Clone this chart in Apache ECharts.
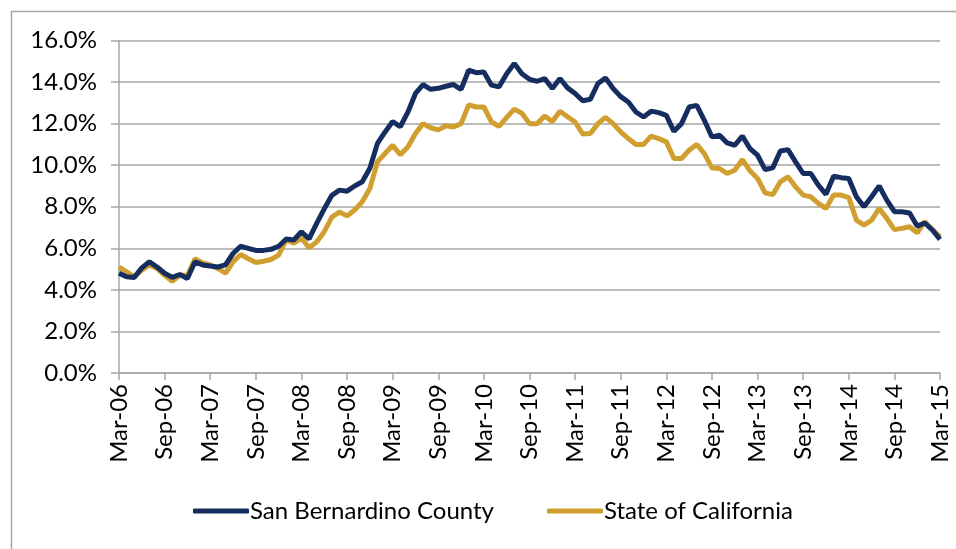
<!DOCTYPE html>
<html>
<head>
<meta charset="utf-8">
<script src="https://cdn.jsdelivr.net/npm/echarts@6/dist/echarts.min.js"></script>
<style>
html,body{margin:0;padding:0;background:#fff;}
#chart{width:956px;height:549px;}
</style>
</head>
<body>
<div id="chart"></div>
<script>
// Monthly, Mar-06 .. Mar-15
const monthNames = ['Jan','Feb','Mar','Apr','May','Jun','Jul','Aug','Sep','Oct','Nov','Dec'];
const startYear = 2006, startMonth = 2, monthCount = 109;
const categories = [];
for (let i = 0; i < monthCount; i++) {
  const m = (startMonth + i) % 12;
  const y = startYear + Math.floor((startMonth + i) / 12);
  categories.push(monthNames[m] + '-' + String(y % 100).padStart(2, '0'));
}

const seriesNames = ['San Bernardino County', 'State of California'];

const sanBernardino = [
  4.8, 4.63, 4.6, 5.06, 5.35, 5.1, 4.8, 4.6, 4.74, 4.55, 5.35, 5.2,
  5.15, 5.1, 5.2, 5.75, 6.1, 6.0, 5.9, 5.9, 5.95, 6.1, 6.45, 6.4,
  6.8, 6.45, 7.2, 7.9, 8.55, 8.8, 8.75, 9.0, 9.2, 9.85, 11.05, 11.6,
  12.1, 11.85, 12.55, 13.45, 13.88, 13.65, 13.7, 13.8, 13.88, 13.65, 14.57, 14.45,
  14.48, 13.85, 13.77, 14.4, 14.9, 14.4, 14.13, 14.04, 14.17, 13.69, 14.17, 13.72,
  13.45, 13.1, 13.17, 13.93, 14.2, 13.69, 13.3, 13.04, 12.56, 12.32, 12.6, 12.53,
  12.4, 11.63, 12.0, 12.8, 12.88, 12.16, 11.36, 11.44, 11.07, 10.96, 11.4, 10.8,
  10.48, 9.79, 9.87, 10.68, 10.75, 10.16, 9.6, 9.6, 9.04, 8.6, 9.47, 9.4,
  9.36, 8.48, 8.0, 8.48, 9.0, 8.32, 7.76, 7.76, 7.7, 7.07, 7.22, 6.88,
  6.43
];

const california = [
  5.1, 4.87, 4.63, 4.95, 5.2, 5.03, 4.7, 4.42, 4.7, 4.7, 5.5, 5.3,
  5.2, 5.03, 4.8, 5.35, 5.7, 5.5, 5.32, 5.38, 5.46, 5.67, 6.4, 6.25,
  6.5, 6.03, 6.3, 6.8, 7.5, 7.75, 7.56, 7.84, 8.24, 8.88, 10.16, 10.56,
  10.96, 10.5, 10.88, 11.52, 12.0, 11.8, 11.7, 11.9, 11.84, 12.0, 12.9, 12.8,
  12.8, 12.08, 11.87, 12.3, 12.7, 12.5, 12.0, 12.0, 12.37, 12.1, 12.6, 12.33,
  12.08, 11.5, 11.52, 12.0, 12.3, 12.0, 11.6, 11.28, 11.0, 11.0, 11.4, 11.28,
  11.12, 10.32, 10.32, 10.72, 11.0, 10.56, 9.87, 9.84, 9.6, 9.76, 10.27, 9.73,
  9.36, 8.67, 8.58, 9.2, 9.44, 8.96, 8.56, 8.48, 8.16, 7.92, 8.56, 8.56,
  8.44, 7.36, 7.12, 7.36, 7.92, 7.44, 6.9, 6.96, 7.04, 6.75, 7.28, 6.9,
  6.55
];

const FONT = 'Lato';
const FS = 24;
const GRID_COLOR = '#a6a6a6';

const chart = echarts.init(document.getElementById('chart'), null, {renderer: 'canvas'});
chart.setOption({
  animation: false,
  backgroundColor: '#ffffff',
  graphic: [{
    type: 'rect',
    shape: {x: 11.5, y: 11.5, width: 1000, height: 1000},
    style: {fill: 'none', stroke: GRID_COLOR, lineWidth: 1.5},
    silent: true
  }],
  grid: {left: 119, right: 16, top: 40.5, bottom: 176, containLabel: false},
  legend: {
    left: 188, top: 494,
    itemWidth: 56, itemHeight: 5, itemGap: 53,
    icon: 'roundRect',
    textStyle: {fontFamily: FONT, fontSize: FS, color: '#000', padding: [0, 0, 0, -4]},
    data: seriesNames
  },
  xAxis: {
    type: 'category',
    boundaryGap: false,
    data: categories,
    axisLine: {lineStyle: {color: GRID_COLOR, width: 1.5}},
    axisTick: {show: true, interval: 5, length: 7, lineStyle: {color: GRID_COLOR, width: 1.5}},
    axisLabel: {interval: 5, rotate: 90, margin: 11, color: '#000', fontFamily: FONT, fontSize: FS},
    splitLine: {show: false}
  },
  yAxis: {
    type: 'value',
    min: 0, max: 16, interval: 2,
    axisLine: {show: true, lineStyle: {color: GRID_COLOR, width: 1.5}},
    axisTick: {show: true, length: 8, lineStyle: {color: GRID_COLOR, width: 1.5}},
    axisLabel: {margin: 22, color: '#000', fontFamily: FONT, fontSize: FS,
      formatter: v => v.toFixed(1) + '%'},
    splitLine: {show: true, lineStyle: {color: GRID_COLOR, width: 1.5}}
  },
  series: [
    {name: seriesNames[0], type: 'line', data: sanBernardino, showSymbol: false,
     lineStyle: {color: '#152e5f', width: 5}, itemStyle: {color: '#152e5f'}, z: 3},
    {name: seriesNames[1], type: 'line', data: california, showSymbol: false,
     lineStyle: {color: '#d09f2f', width: 5}, itemStyle: {color: '#d09f2f'}, z: 2}
  ]
});
</script>
</body>
</html>
